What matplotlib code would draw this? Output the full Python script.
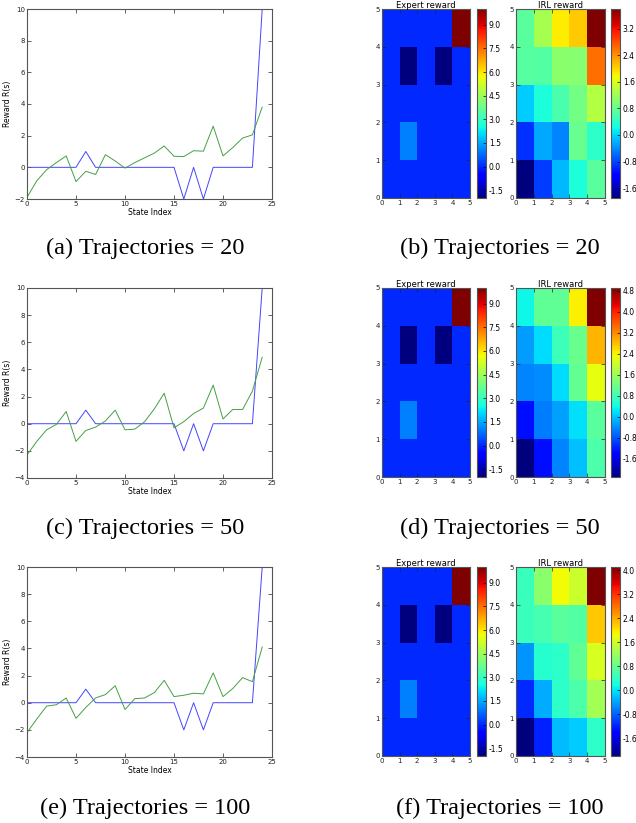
import numpy as np
import matplotlib
matplotlib.use("Agg")
import matplotlib.pyplot as plt

# reward per state index (0..24), grid is 5x5 with x = s % 5, y = s // 5
states = list(range(25))
expert_reward = [0, 0, 0, 0, 0,
                 0, 1, 0, 0, 0,
                 0, 0, 0, 0, 0,
                 0, -2, 0, -2, 0,
                 0, 0, 0, 0, 10]

irl_20 = [-1.9, -0.85, -0.15, 0.3, 0.72,
          -0.9, -0.25, -0.45, 0.8, 0.4,
          -0.05, 0.3, 0.6, 0.9, 1.35,
          0.7, 0.68, 1.05, 1.02, 2.6,
          0.72, 1.25, 1.85, 2.05, 3.8]
irl_50 = [-2.3, -1.3, -0.45, -0.05, 0.9,
          -1.3, -0.5, -0.25, 0.2, 1.0,
          -0.45, -0.4, 0.15, 1.1, 2.25,
          -0.3, 0.15, 0.75, 1.15, 2.85,
          0.35, 1.05, 1.05, 2.4, 4.9]
irl_100 = [-2.2, -1.2, -0.25, -0.15, 0.35,
           -1.15, -0.35, 0.35, 0.6, 1.25,
           -0.5, 0.3, 0.35, 0.75, 1.65,
           0.45, 0.55, 0.7, 0.65, 2.2,
           0.45, 1.05, 1.85, 1.55, 4.1]

irl_runs = [irl_20, irl_50, irl_100]
line_ymin = [-2, -4, -4]
left_captions = ["(a) Trajectories = 20", "(c) Trajectories = 50", "(e) Trajectories = 100"]
right_captions = ["(b) Trajectories = 20", "(d) Trajectories = 50", "(f) Trajectories = 100"]

W, H = 636, 823
fig = plt.figure(figsize=(W / 100, H / 100), dpi=100)


def px_axes(left, top, width, height):
    return fig.add_axes([left / W, 1 - (top + height) / H, width / W, height / H])


def style_axes(ax):
    for sp in ax.spines.values():
        sp.set_color("#555555")
        sp.set_linewidth(0.8)
    ax.tick_params(direction="in", length=3, width=0.5, labelsize=5,
                   top=True, right=True, pad=1.5, colors="#222222")


row_tops = [9, 288, 567]
caption_y = [248, 528, 808]

for i, irl in enumerate(irl_runs):
    top = row_tops[i]

    # line plot of expert vs IRL reward
    ax = px_axes(27, top, 245, 190)
    ax.plot(states, expert_reward, color="#4444ff", lw=0.7)
    ax.plot(states, irl, color="#44a044", lw=0.7)
    ax.set_xlim(0, 25)
    ax.set_ylim(line_ymin[i], 10)
    ax.set_xticks(range(0, 26, 5))
    ax.set_yticks(range(line_ymin[i], 11, 2))
    ax.set_xlabel("State Index", fontsize=5.5, labelpad=1)
    ax.set_ylabel("Reward R(s)", fontsize=5.5, labelpad=2)
    style_axes(ax)

    # expert heatmap
    exp_grid = np.array(expert_reward).reshape(5, 5)
    ax1 = px_axes(382, top, 88, 189)
    im1 = ax1.imshow(exp_grid, cmap="jet", origin="lower", extent=[0, 5, 0, 5],
                     aspect="auto", interpolation="nearest")
    ax1.set_title("Expert reward", fontsize=6, pad=1)
    ax1.set_xticks(range(6))
    ax1.set_yticks(range(6))
    style_axes(ax1)
    cax1 = px_axes(477, top, 9, 189)
    cb1 = fig.colorbar(im1, cax=cax1)
    cb1.set_ticks(np.arange(-1.5, 9.1, 1.5))
    cb1.ax.yaxis.set_major_formatter(matplotlib.ticker.FormatStrFormatter("%.1f"))
    cb1.ax.tick_params(labelsize=5.5, length=2, width=0.5, pad=2, direction="in")
    cb1.outline.set_edgecolor("#555555")
    cb1.outline.set_linewidth(0.8)

    # IRL heatmap
    irl_grid = np.array(irl).reshape(5, 5)
    ax2 = px_axes(516, top, 89, 189)
    im2 = ax2.imshow(irl_grid, cmap="jet", origin="lower", extent=[0, 5, 0, 5],
                     aspect="auto", interpolation="nearest")
    ax2.set_title("IRL reward", fontsize=6, pad=1)
    ax2.set_xticks(range(6))
    ax2.set_yticks(range(6))
    style_axes(ax2)
    cax2 = px_axes(611, top, 9, 189)
    cb2 = fig.colorbar(im2, cax=cax2)
    cb2.set_ticks(np.arange(-1.6, max(irl) + 0.01, 0.8))
    cb2.ax.yaxis.set_major_formatter(matplotlib.ticker.FormatStrFormatter("%.1f"))
    cb2.ax.tick_params(labelsize=5.5, length=2, width=0.5, pad=2, direction="in")
    cb2.outline.set_edgecolor("#555555")
    cb2.outline.set_linewidth(0.8)

    fig.text(145 / W, 1 - caption_y[i] / H, left_captions[i], ha="center", va="center",
             fontsize=17.5, family="Liberation Serif")
    fig.text(500 / W, 1 - caption_y[i] / H, right_captions[i], ha="center", va="center",
             fontsize=17.5, family="Liberation Serif")

fig.savefig("out.png", dpi=100)
